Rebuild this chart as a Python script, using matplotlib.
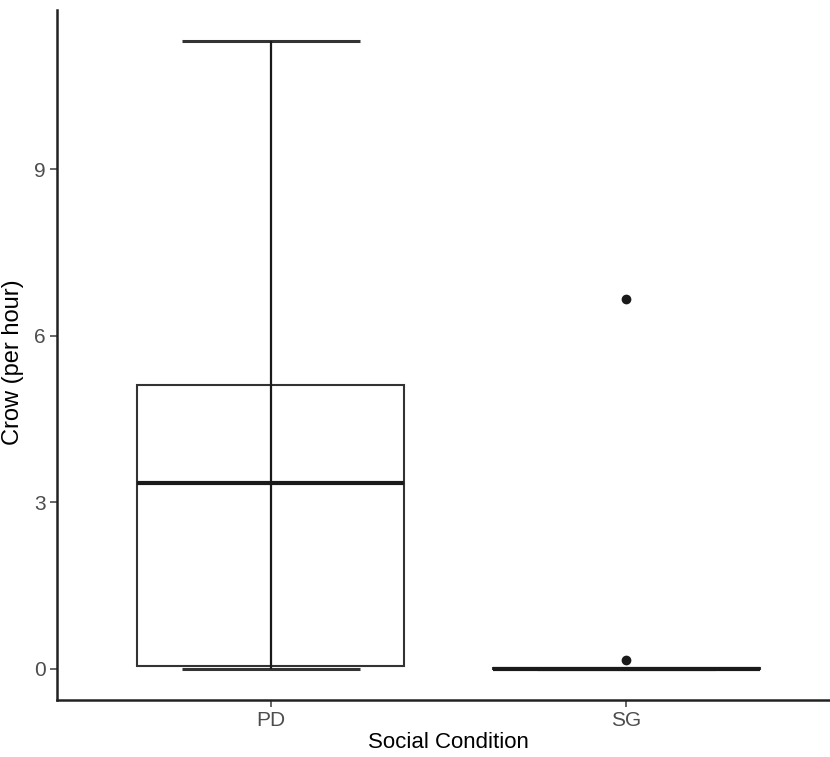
import numpy as np
import matplotlib
matplotlib.use("Agg")
import matplotlib.pyplot as plt

plt.rcParams['font.family'] = ['Liberation Sans', 'DejaVu Sans']

# summary statistics
groups = ['PD', 'SG']
q1 = [0.04, 0.0]
medians = [3.35, 0.0]
q3 = [5.11, 0.02]
whisker_lo = [0.0, 0.0]
whisker_hi = [11.3, 0.0]
outliers = [[], [0.15, 6.65]]

positions = np.arange(1, len(groups) + 1)
box_color = '#333333'

fig = plt.figure(figsize=(8.30, 7.57), dpi=100)
ax = fig.add_axes([57 / 830, 57 / 757, 783 / 830, 690 / 757])

# errorbar-style whiskers (drawn across the box, like stat_boxplot(geom='errorbar'))
for x, lo, hi in zip(positions, whisker_lo, whisker_hi):
    ax.vlines(x, lo, hi, color='#1a1a1a', lw=1.6, zorder=3)
    ax.hlines([lo, hi], x - 0.25, x + 0.25, color='#333333', lw=2.2, zorder=1)

stats = []
for g, a, m, b, lo, hi, out in zip(groups, q1, medians, q3, whisker_lo, whisker_hi, outliers):
    stats.append(dict(label=g, q1=a, med=m, q3=b, whislo=a, whishi=b, fliers=out))

ax.bxp(stats, positions=positions, widths=0.75, patch_artist=True,
       showcaps=False,
       boxprops=dict(facecolor='none', edgecolor=box_color, linewidth=1.5),
       medianprops=dict(color='#1a1a1a', linewidth=3),
       whiskerprops=dict(linewidth=0),
       flierprops=dict(marker='o', markerfacecolor='#1a1a1a', markeredgecolor='#1a1a1a',
                       markersize=6))

ax.set_xlim(0.4, 2.6)
ax.set_ylim(-0.565, 11.865)
ax.set_yticks([0, 3, 6, 9])
ax.set_xticks(positions)
ax.set_xticklabels(groups)

for side in ['top', 'right']:
    ax.spines[side].set_visible(False)
for side in ['left', 'bottom']:
    ax.spines[side].set_linewidth(1.8)
    ax.spines[side].set_color('#222222')

ax.tick_params(axis='both', labelsize=15, colors='#4d4d4d', length=5, width=1.2, pad=3)
ax.set_xlabel('Social Condition', fontsize=16, color='black')
ax.set_ylabel('Crow (per hour)', fontsize=17, color='black')
ax.xaxis.set_label_coords(0.5, -0.047)
ax.yaxis.set_label_coords(-0.042, 0.49)

fig.savefig('out.png', dpi=100)
